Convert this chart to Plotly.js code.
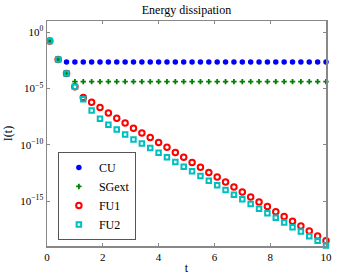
<!DOCTYPE html>
<html><head><meta charset="utf-8">
<script src="https://cdn.plot.ly/plotly-3.0.1.min.js"></script>
<style>html,body{margin:0;padding:0;background:#fff}#chart{width:360px;height:277px}</style>
</head><body><div id="chart"></div>
<script>
const t = [0.1,0.4,0.7,1.0,1.3,1.6,1.9,2.2,2.5,2.8,3.1,3.4,3.7,4.0,4.3,4.6,4.9,5.2,5.5,5.8,6.1,6.4,6.7,7.0,7.3,7.6,7.9,8.2,8.5,8.8,9.1,9.4,9.7,10.0];
const CU = [1.7e-1,3.8e-3,2.3e-3,2.3e-3,2.3e-3,2.3e-3,2.3e-3,2.3e-3,2.3e-3,2.3e-3,2.3e-3,2.3e-3,2.3e-3,2.3e-3,2.3e-3,2.3e-3,2.3e-3,2.3e-3,2.3e-3,2.3e-3,2.3e-3,2.3e-3,2.3e-3,2.3e-3,2.3e-3,2.3e-3,2.3e-3,2.3e-3,2.3e-3,2.3e-3,2.3e-3,2.3e-3,2.3e-3,2.3e-3];
const SGext = [1.7e-1,3.8e-3,2.2e-4,4.1e-5,4.1e-5,4.1e-5,4.1e-5,4.1e-5,4.1e-5,4.1e-5,4.1e-5,4.1e-5,4.1e-5,4.1e-5,4.1e-5,4.1e-5,4.1e-5,4.1e-5,4.1e-5,4.1e-5,4.1e-5,4.1e-5,4.1e-5,4.1e-5,4.1e-5,4.1e-5,4.1e-5,4.1e-5,4.1e-5,4.1e-5,4.1e-5,4.1e-5,4.1e-5,4.1e-5];
const FU1 = [1.7e-1,3.8e-3,2.2e-4,1.4e-5,1.6e-6,6.0e-7,2.0e-7,6.5e-8,2.3e-8,8.5e-9,3.0e-9,1.1e-9,4.3e-10,1.6e-10,5.9e-11,2.1e-11,7.6e-12,2.7e-12,9.8e-13,3.5e-13,1.35e-13,4.9e-14,1.8e-14,6.3e-15,2.3e-15,8.3e-16,3.2e-16,1.1e-16,4.1e-17,1.6e-17,6.1e-18,2.2e-18,7.9e-19,3.0e-19];
const FU2 = [1.7e-1,3.8e-3,2.2e-4,1.4e-5,1.1e-6,1.1e-7,2.0e-8,6.0e-9,2.3e-9,8.3e-10,3.0e-10,1.3e-10,5.1e-11,1.95e-11,7.6e-12,2.9e-12,1.1e-12,4.4e-13,1.7e-13,6.4e-14,2.5e-14,9.6e-15,3.6e-15,1.4e-15,5.5e-16,2.1e-16,8.1e-17,3.2e-17,1.2e-17,4.7e-18,1.9e-18,7.4e-19,3.0e-19,1.1e-19];
const xTicks = [0,2,4,6,8,10];
const yTickVals = [1,1e-5,1e-10,1e-15];
const yTickText = ['10<sup>0</sup>','10<sup>−5</sup>','10<sup>−10</sup>','10<sup>−15</sup>'];

const font = 'Liberation Serif, Times New Roman, serif';
const traces = [
  {x:t, y:CU, name:'CU', mode:'markers', type:'scatter', cliponaxis:false,
   marker:{symbol:'circle', size:5.5, color:'#0000ff', line:{width:0}}},
  {x:t, y:SGext, name:'SGext', mode:'markers', type:'scatter', cliponaxis:false,
   marker:{symbol:'cross', size:4.5, color:'#008000', line:{width:0}}},
  {x:t, y:FU1, name:'FU1', mode:'markers', type:'scatter', cliponaxis:false,
   marker:{symbol:'circle-open', size:5.5, color:'#ff0000', line:{width:2, color:'#ff0000'}}},
  {x:t, y:FU2, name:'FU2', mode:'markers', type:'scatter', cliponaxis:false,
   marker:{symbol:'square-open', size:4.5, color:'#00bfbf', line:{width:2, color:'#00bfbf'}}}
];
const axisCommon = {showline:true, linecolor:'#888', linewidth:1.5, mirror:'ticks',
  ticks:'inside', ticklen:3, tickcolor:'#888', showgrid:false, zeroline:false,
  tickfont:{family:font, size:11, color:'#000'}};
const layout = {
  width:360, height:277,
  margin:{l:47, r:34, t:21, b:31},
  paper_bgcolor:'#fff', plot_bgcolor:'#fff',
  font:{family:font, color:'#000'},
  title:{text:'Energy dissipation', font:{family:font, size:12, color:'#000'}, x:0.518, xanchor:'center', y:0.965, yanchor:'middle'},
  xaxis:Object.assign({}, axisCommon, {range:[0,10], tickvals:xTicks, ticktext:xTicks.map(String),
    title:{text:'t', font:{family:font, size:12}, standoff:2}}),
  yaxis:Object.assign({}, axisCommon, {type:'log', range:[-19,1], tickvals:yTickVals, ticktext:yTickText,
    title:{text:'I(t)', font:{family:font, size:12}, standoff:5}}),
  showlegend:true,
  legend:{x:0.039, y:0.418, xanchor:'left', yanchor:'top', bgcolor:'#fff',
    bordercolor:'#555', borderwidth:1, font:{family:font, size:12, color:'#000'},
    tracegroupgap:0, itemwidth:30}
};
Plotly.newPlot('chart', traces, layout, {staticPlot:true, displayModeBar:false});
</script></body></html>
